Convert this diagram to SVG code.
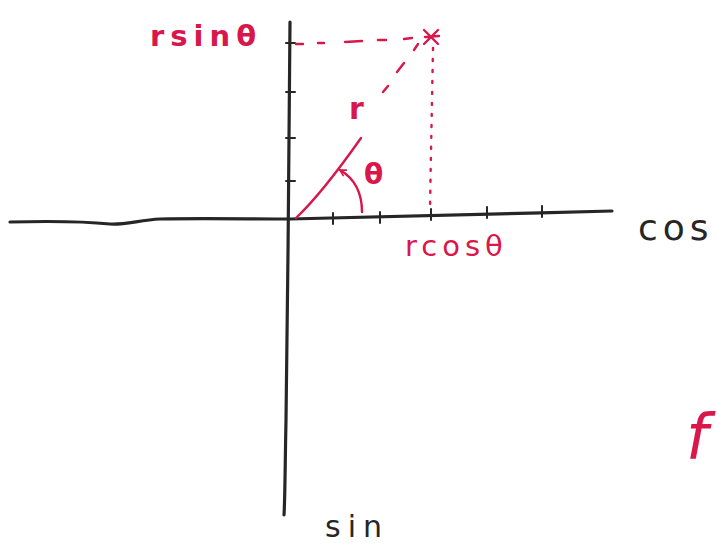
<svg xmlns="http://www.w3.org/2000/svg" width="717" height="545" viewBox="0 0 717 545">
<style>
.ax{fill:none;stroke:#262626;stroke-width:3.2;stroke-linecap:round;stroke-linejoin:round}
.tk{fill:none;stroke:#262626;stroke-width:2;stroke-linecap:round}
.rd{fill:none;stroke:#d8174a;stroke-width:2.4;stroke-linecap:round;stroke-linejoin:round}
.rt{fill:#d8174a;font-family:"DejaVu Sans",sans-serif}
.bt{fill:#262626;font-family:"DejaVu Sans",sans-serif}
</style>
<defs>
<marker id="ah" viewBox="0 0 10 10" refX="8" refY="5" markerWidth="8" markerHeight="8" orient="auto" markerUnits="userSpaceOnUse">
<path d="M1,1 L8,5 L1,9" fill="none" stroke="#d8174a" stroke-width="2" stroke-linecap="round"/>
</marker>
</defs>
<rect width="717" height="545" fill="#fff"/>
<g id="axes">
<path class="ax" d="M10,222 C50,221 90,222 110,224 C125,225 140,220 160,219 C200,218 250,219 290,219 C380,216 500,214 612,211"/>
<path class="ax" d="M290,22 C289,120 288,300 286,420 C285,470 285,500 284,515"/>
</g>
<g id="ticks">
<path class="tk" d="M333,213 L333,224 M380,212 L380,223 M431,209 L431,220 M487,207 L487,218 M542,206 L542,217"/>
<path class="tk" d="M286,43 L295,43 M286,92 L295,92 M286,138 L295,138 M286,181 L295,181"/>
</g>
<g id="connectors">
<path class="rd" d="M296,44 L303,44 M318,43 L324,43 M345,42 L362,41 M378,40 L386,40 M404,39 L412,38"/>
<path class="rd" stroke-dasharray="2 9" d="M433,48 C432,100 431,150 430,208"/>
<path class="rd" d="M296,218 C315,200 335,175 361,138"/>
<path class="rd" d="M383,92 L388,86 M397,72 L404,63 M414,50 L418,44"/>
<path class="rd" d="M362,212 C362,195 357,180 340,170" marker-end="url(#ah)"/>
<path class="rd" stroke-width="3" d="M424,30 L438,44 M438,30 L424,44 M425,37 L439,36"/>
</g>
<g id="labels">
<text class="rt" x="150" y="46" font-size="29" font-weight="bold" letter-spacing="6">rsinθ</text>
<text class="rt" x="349" y="119" font-size="30" font-weight="bold">r</text>
<text class="rt" x="364" y="184" font-size="28" font-weight="bold">θ</text>
<text class="rt" x="405" y="256" font-size="29" letter-spacing="5">rcosθ</text>
<text class="bt" x="638" y="240" font-size="36" letter-spacing="5">cos</text>
<text class="bt" x="325" y="537" font-size="30" letter-spacing="7">sin</text>
<text class="rt" x="686" y="458" font-size="62" font-style="italic">f</text>
</g>
</svg>
